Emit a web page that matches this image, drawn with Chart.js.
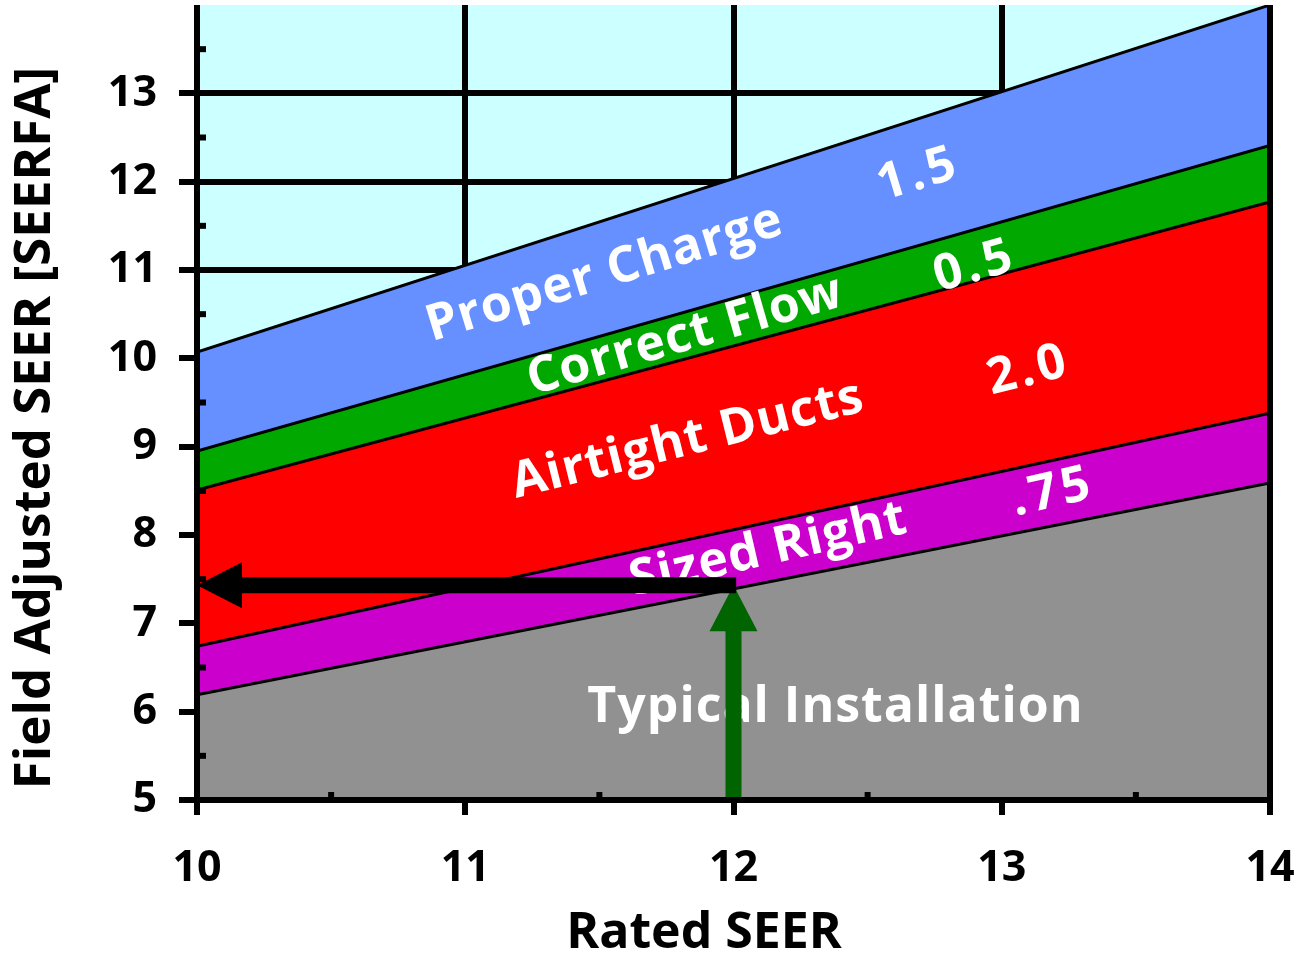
<!DOCTYPE html>
<html>
<head>
<meta charset="utf-8">
<title>Rated SEER vs Field Adjusted SEER</title>
<script src="https://cdn.jsdelivr.net/npm/chart.js@4.4.1/dist/chart.umd.min.js"></script>
<style>
  html, body { margin: 0; padding: 0; background: #ffffff; }
  canvas { display: block; }
</style>
</head>
<body>
<canvas id="seerChart" width="1301" height="955"></canvas>
<script>
// Rated SEER at the two ends of every band
const ratedSeer = [10, 14];

// upper edge of each band (Field Adjusted SEER) at rated SEER 10 and 14
const typicalTop = [6.19, 8.59];
const sizedTop   = [6.74, 9.38];
const ductsTop   = [8.51, 11.77];
const flowTop    = [8.95, 12.41];
const chargeTop  = [10.07, 14.0];

const bandNames  = ['Typical Installation', 'Sized Right', 'Airtight Ducts', 'Correct Flow', 'Proper Charge'];
const bandTops   = [typicalTop, sizedTop, ductsTop, flowTop, chargeTop];
const bandColors = ['#919191', '#cc00cc', '#ff0000', '#00a800', '#6690ff'];

// texts written on the bands (data coordinates of their centres)
const labelTexts = ['Proper Charge', '1.5', 'Correct Flow', '0.5', 'Airtight Ducts', '2.0', 'Sized Right', '.75', 'Typical Installation'];
const labelX     = [11.52, 12.69, 11.82, 12.90, 11.83, 13.10, 12.13, 13.19, 12.38];
const labelY     = [10.96, 12.08, 10.25, 11.04, 9.07, 9.86, 7.83, 8.48, 6.05];
const labelAngle = [-17, -17, -16, -16, -14, -14, -13, -13, 0];

// example reading: rated 12 -> field 7.43
const riseFrom = [12, 5];
const riseTo   = [12, 7.43];
const readFrom = [12.01, 7.43];
const readTo   = [10, 7.43];

const xMin = 10, xMax = 14;
const yMin = 5, yMax = 14;

const FONT = '"Open Sans", "DejaVu Sans", sans-serif';

function arrow(ctx, x0, y0, x1, y1, shaft, headLen, headWidth, color) {
  const ang = Math.atan2(y1 - y0, x1 - x0);
  const len = Math.hypot(x1 - x0, y1 - y0);
  ctx.save();
  ctx.translate(x0, y0);
  ctx.rotate(ang);
  ctx.fillStyle = color;
  ctx.beginPath();
  ctx.moveTo(0, -shaft / 2);
  ctx.lineTo(len - headLen, -shaft / 2);
  ctx.lineTo(len - headLen, -headWidth / 2);
  ctx.lineTo(len, 0);
  ctx.lineTo(len - headLen, headWidth / 2);
  ctx.lineTo(len - headLen, shaft / 2);
  ctx.lineTo(0, shaft / 2);
  ctx.closePath();
  ctx.fill();
  ctx.restore();
}

const overlay = {
  id: 'overlay',
  beforeDraw(chart) {
    const { ctx, chartArea: a } = chart;
    ctx.save();
    ctx.fillStyle = '#ccffff';
    ctx.fillRect(a.left, a.top, a.right - a.left, a.bottom - a.top);
    ctx.restore();
  },
  afterDatasetsDraw(chart) {
    const { ctx, chartArea: a, scales: { x, y } } = chart;

    // band captions
    ctx.save();
    ctx.fillStyle = '#ffffff';
    ctx.textAlign = 'center';
    ctx.textBaseline = 'middle';
    labelTexts.forEach((t, i) => {
      const isNumber = /^[0-9.]+$/.test(t);
      ctx.save();
      ctx.translate(x.getPixelForValue(labelX[i]), y.getPixelForValue(labelY[i]));
      ctx.rotate(labelAngle[i] * Math.PI / 180);
      ctx.font = 'bold 50px ' + FONT;
      ctx.letterSpacing = isNumber ? '4px' : '1px';
      ctx.fillText(t, 0, 0);
      ctx.restore();
    });
    ctx.restore();

    // arrows
    arrow(ctx, x.getPixelForValue(riseFrom[0]), y.getPixelForValue(riseFrom[1]),
      x.getPixelForValue(riseTo[0]), y.getPixelForValue(riseTo[1]), 16, 46, 48, '#006400');
    arrow(ctx, x.getPixelForValue(readFrom[0]), y.getPixelForValue(readFrom[1]),
      x.getPixelForValue(readTo[0]), y.getPixelForValue(readTo[1]), 16, 45, 46, '#000000');

    // frame and minor ticks
    ctx.save();
    ctx.strokeStyle = '#000000';
    ctx.lineWidth = 6;
    ctx.beginPath();
    ctx.moveTo(a.left, a.top);
    ctx.lineTo(a.left, a.bottom);
    ctx.lineTo(a.right, a.bottom);
    ctx.moveTo(a.right, a.top);
    ctx.lineTo(a.right, a.bottom + 15);
    ctx.stroke();
    for (let v = yMin + 0.5; v < yMax; v += 1) {
      const py = y.getPixelForValue(v);
      ctx.beginPath();
      ctx.moveTo(a.left, py);
      ctx.lineTo(a.left + 9, py);
      ctx.stroke();
    }
    for (let v = xMin + 0.5; v < xMax; v += 1) {
      const px = x.getPixelForValue(v);
      ctx.beginPath();
      ctx.moveTo(px, a.bottom);
      ctx.lineTo(px, a.bottom - 8);
      ctx.stroke();
    }
    ctx.restore();
  },
  afterDraw(chart) {
    const { ctx } = chart;
    ctx.save();
    ctx.fillStyle = '#000000';
    ctx.font = 'bold 50px ' + FONT;
    ctx.textAlign = 'center';
    ctx.textBaseline = 'alphabetic';
    ctx.fillText('Rated SEER', 704, 948);
    ctx.translate(50, 428);
    ctx.rotate(-Math.PI / 2);
    ctx.font = 'bold 51px ' + FONT;
    ctx.fillText('Field Adjusted SEER [SEERFA]', 0, 0);
    ctx.restore();
  }
};

const datasets = bandNames.map((name, i) => ({
  label: name,
  data: ratedSeer.map((r, j) => ({ x: r, y: bandTops[i][j] })),
  backgroundColor: bandColors[i],
  borderColor: '#000000',
  borderWidth: 3,
  pointRadius: 0,
  tension: 0,
  fill: i === 0 ? 'start' : '-1'
}));

const ctx = document.getElementById('seerChart').getContext('2d');
const seerChart = new Chart(ctx, {
  type: 'line',
  data: { datasets: datasets },
  options: {
    responsive: false,
    animation: false,
    layout: { padding: { top: 5, right: 31, left: 0, bottom: 0 } },
    plugins: {
      legend: { display: false },
      tooltip: { enabled: false }
    },
    scales: {
      x: {
        type: 'linear',
        min: xMin,
        max: xMax,
        border: { display: false },
        grid: {
          color: c => (c.tick && c.tick.value > xMin && c.tick.value < xMax) ? '#000000' : 'rgba(0,0,0,0)',
          lineWidth: 6,
          tickColor: '#000000',
          tickWidth: 6,
          tickLength: 15
        },
        ticks: {
          stepSize: 1,
          color: '#000000',
          padding: 28,
          font: { family: FONT, weight: 'bold', size: 43 }
        },
        afterFit(scale) {
          scale.height = 155;
          scale.paddingLeft = 0;
          scale.paddingRight = 0;
        }
      },
      y: {
        type: 'linear',
        min: yMin,
        max: yMax,
        border: { display: false },
        afterBuildTicks(scale) {
          scale.ticks = scale.ticks.filter(t => t.value < yMax);
        },
        grid: {
          color: c => (c.tick && c.tick.value > yMin) ? '#000000' : 'rgba(0,0,0,0)',
          lineWidth: 6,
          tickColor: '#000000',
          tickWidth: 6,
          tickLength: 18
        },
        ticks: {
          stepSize: 1,
          color: '#000000',
          padding: 22,
          font: { family: FONT, weight: 'bold', size: 43 }
        },
        afterFit(scale) {
          scale.width = 197;
          scale.paddingTop = 0;
          scale.paddingBottom = 0;
        }
      }
    }
  },
  plugins: [overlay]
});
</script>
</body>
</html>
